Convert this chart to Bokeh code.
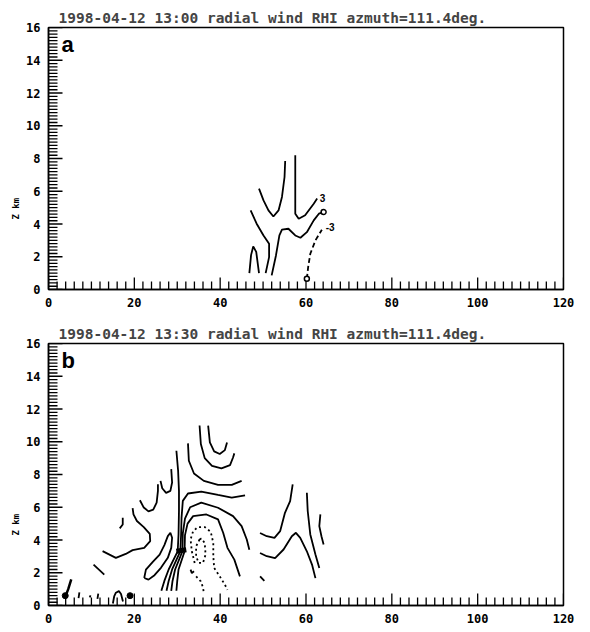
import numpy as np
from bokeh.plotting import figure
from bokeh.models import SingleIntervalTicker, Label, Range1d, Title
from bokeh.layouts import column
from bokeh.embed import file_html
from bokeh.resources import INLINE

# ---------------- data (x: km range, y: Z km) ----------------
title_a = "1998-04-12 13:00 radial wind RHI azmuth=111.4deg."
title_b = "1998-04-12 13:30 radial wind RHI azmuth=111.4deg."
x_ticks_interval = 20
x_minor_interval = 2
y_ticks_interval = 2
y_minor_interval = 0.2

# Panel a contours (solid)
a1_x = [46.8, 47.2, 47.7, 48.4, 49.05]
a1_y = [1.0, 2.1, 2.63, 2.3, 1.0]
a2_x = [47.1, 48.5, 50.1, 51.4, 51.4, 50.6]
a2_y = [4.83, 4.02, 3.30, 2.79, 1.98, 1.0]
a3_x = [49.05, 50.1, 51.25, 52.4, 53.6, 54.4, 55.0, 55.15]
a3_y = [6.16, 5.44, 4.83, 4.46, 4.83, 5.65, 6.87, 7.85]
a4_x = [57.5, 57.5, 58.3, 59.8, 61.8, 62.6]
a4_y = [8.2, 4.63, 4.32, 4.53, 5.24, 5.55]
a5_x = [52.0, 53.0, 53.8, 54.4, 55.9, 57.5, 58.7, 60.2, 61.8, 63.0, 64.1]
a5_y = [0.86, 2.08, 3.30, 3.65, 3.71, 3.30, 3.16, 3.50, 4.22, 4.63, 4.73]
# Panel a contour (dashed, negative)
a6_x = [60.2, 60.5, 61.0, 62.2, 63.7]
a6_y = [0.65, 1.36, 2.18, 3.0, 3.65]
a_labels = ["3", "-3"]
a_label_x = [63.2, 64.6]
a_label_y = [5.6, 3.8]
a_marks_x = [64.1, 60.2]
a_marks_y = [4.73, 0.65]

# Panel b contours (solid)
b_c1_x = [37.2, 37.6, 38.6, 39.9, 41.1, 41.6]
b_c1_y = [10.99, 9.96, 9.41, 9.25, 9.49, 9.96]
b_c2_x = [35.2, 35.5, 36.4, 38.1, 40.3, 42.3, 43.0, 43.3]
b_c2_y = [10.99, 9.86, 9.0, 8.53, 8.37, 8.57, 9.04, 9.29]
b_c3_x = [32.5, 32.7, 33.9, 36.2, 39.5, 42.7, 45.0]
b_c3_y = [9.9, 8.84, 8.06, 7.61, 7.37, 7.37, 7.61]
b_la_x = [29.8, 30.2, 30.4, 30.4, 30.3, 30.1, 28.0, 27.0, 26.3]
b_la_y = [9.45, 8.23, 7.0, 5.77, 4.34, 3.3, 2.2, 1.5, 0.9]
b_r_x = [45.8, 42.7, 39.5, 35.6, 32.5, 31.3, 31.0, 30.9, 30.7, 28.8, 28.0, 27.5]
b_r_y = [6.73, 6.59, 6.75, 6.96, 6.84, 6.39, 5.36, 4.34, 3.3, 2.2, 1.5, 0.9]
b_x1_x = [46.8, 46.2, 45.0, 43.0, 39.5, 35.6, 33.0, 31.8, 31.3, 31.2, 29.5, 28.9, 28.6]
b_x1_y = [3.41, 4.03, 4.85, 5.46, 5.97, 6.28, 6.0, 5.3, 4.4, 3.3, 2.2, 1.5, 0.9]
b_x2_x = [44.6, 43.3, 41.7, 40.7, 39.5, 36.8, 33.7, 32.4, 31.8, 31.7, 30.3, 30.0, 29.8]
b_x2_y = [1.78, 2.8, 3.52, 4.44, 5.26, 5.56, 5.46, 5.0, 4.3, 3.3, 2.2, 1.5, 0.9]
b_u1_x = [21.3, 22.2, 23.3, 24.4, 25.2, 25.5, 25.5]
b_u1_y = [6.43, 5.98, 5.75, 5.85, 6.28, 7.0, 7.41]
b_u2_x = [26.1, 26.5, 27.4, 28.4, 28.8, 28.6]
b_u2_y = [7.61, 7.16, 6.88, 7.0, 7.51, 8.33]
b_wave_x = [12.6, 15.7, 18.0, 19.6, 22.3, 23.7, 23.6, 22.2, 20.6, 19.8, 19.6]
b_wave_y = [3.32, 2.91, 3.15, 3.38, 3.52, 3.93, 4.38, 4.79, 5.16, 5.57, 5.94]
b_hook_x = [17.3, 17.3, 16.6]
b_hook_y = [5.36, 4.95, 4.71]
b_dash_x = [10.5, 13.0]
b_dash_y = [2.5, 1.89]
b_loop_x = [22.3, 22.7, 24.3, 25.9, 27.0, 27.8, 28.4, 28.8, 28.6, 27.8, 26.2, 24.7, 23.3, 22.3]
b_loop_y = [1.68, 2.19, 2.66, 3.11, 3.69, 4.24, 4.44, 4.14, 3.52, 2.91, 2.3, 1.85, 1.58, 1.68]
b_ra_x = [56.9, 56.3, 55.1, 53.97, 52.65, 50.86, 49.29]
b_ra_y = [7.4, 6.38, 5.66, 4.54, 4.13, 4.23, 4.43]
b_rb_x = [49.29, 50.86, 52.8, 54.77, 56.7, 57.65, 58.66, 60.2, 61.4, 62.2]
b_rb_y = [3.21, 3.01, 2.9, 3.42, 4.23, 4.44, 4.13, 3.31, 2.50, 1.67]
b_rc_x = [60.2, 60.4, 61.0, 62.2, 63.1]
b_rc_y = [6.89, 5.77, 4.34, 3.11, 2.29]
b_rd_x = [63.35, 63.1, 63.6, 64.1]
b_rd_y = [5.56, 4.85, 4.23, 3.72]
b_rdash_x = [49.3, 50.3]
b_rdash_y = [1.78, 1.51]
b_cap_x = [15.0, 15.3, 15.7, 16.4, 16.9, 17.35]
b_cap_y = [0.12, 0.55, 0.78, 0.88, 0.7, 0.24]
b_bits_x = [[7.0, 7.2], [9.6, 9.8], [11.4, 11.6]]
b_bits_y = [[0.45, 0.8], [0.5, 0.62], [0.4, 0.72]]
b_arrow_x = [5.3, 4.6, 3.8]
b_arrow_y = [1.6, 1.0, 0.45]
b_blob_x = [29.8, 32.1]
b_blob_y = [3.31, 3.41]
b_dot_x = [19.0, 3.9]
b_dot_y = [0.6, 0.6]
# Panel b contours (dotted, negative)
b_d_outer_x = [34.06, 33.4, 33.1, 33.7, 34.8, 36.4, 37.8, 38.4, 38.4, 38.6, 39.9, 41.1, 41.7]
b_d_outer_y = [2.6, 3.31, 4.03, 4.54, 4.79, 4.79, 4.5, 3.82, 3.0, 2.29, 1.78, 1.27, 0.96]
b_d_inner_x = [35.2, 34.4, 34.4, 35.0, 36.0, 36.6, 36.4, 35.6, 35.2]
b_d_inner_y = [4.03, 3.62, 3.0, 2.6, 2.6, 3.11, 3.82, 4.09, 4.03]
b_d_low_x = [34.4, 35.5, 36.0, 36.2]
b_d_low_y = [1.78, 1.47, 1.1, 0.76]
b_cup_x = [33.1, 33.4, 33.9]
b_cup_y = [2.19, 1.98, 2.09]

MONO = "DejaVu Sans Mono"
LW = 1.8
X0, X1, Y0, Y1 = 0.0, 120.0, 0.0, 16.0
FW, FH = 515, 262


def make_panel(title, letter):
    p = figure(frame_width=FW, frame_height=FH,
               x_range=Range1d(X0, X1), y_range=Range1d(Y0, Y1),
               output_backend="svg", toolbar_location=None,
               min_border_left=48, min_border_right=27,
               min_border_top=27, min_border_bottom=27,
               background_fill_color="white", border_fill_color="white")
    p.title.text = title
    p.title.text_font = MONO
    p.title.text_font_size = "14.5px"
    p.title.text_font_style = "bold"
    p.title.align = "left"
    p.title.offset = 10
    p.title.standoff = 3
    p.xgrid.visible = False
    p.ygrid.visible = False
    p.outline_line_color = "black"
    p.outline_line_width = 1.5
    p.xaxis.ticker = SingleIntervalTicker(interval=x_ticks_interval, num_minor_ticks=10)
    p.yaxis.ticker = SingleIntervalTicker(interval=y_ticks_interval, num_minor_ticks=10)
    for ax in (p.xaxis, p.yaxis):
        ax.major_tick_in = 0
        ax.major_tick_out = 0
        ax.minor_tick_in = 0
        ax.minor_tick_out = 0
        ax.axis_line_color = "black"
        ax.axis_line_width = 1.5
        ax.major_label_text_font = MONO
        ax.major_label_text_font_size = "12px"
        ax.major_label_text_font_style = "bold"
        ax.major_label_text_color = "black"
    p.xaxis.major_label_standoff = 8
    p.yaxis.major_label_standoff = 8
    # inward ticks drawn in the frame, spaced by the axis intervals (one glyph)
    kx = (X1 - X0) / FW   # km per pixel (x)
    ky = (Y1 - Y0) / FH   # km per pixel (y)
    n_x = int(round((X1 - X0) / x_minor_interval))
    n_y = int(round((Y1 - Y0) / y_minor_interval))
    tick_xs, tick_ys = [], []
    for i in range(n_x + 1):
        v = X0 + i * x_minor_interval
        L = (12 if i % 10 == 0 else 8) * ky
        tick_xs.append([v, v])
        tick_ys.append([Y0, Y0 + L])
    for i in range(n_y + 1):
        v = Y0 + i * y_minor_interval
        L = (14 if i % 10 == 0 else 9) * kx
        tick_xs.append([X0, X0 + L])
        tick_ys.append([v, v])
    p.multi_line(xs=tick_xs, ys=tick_ys, line_color="black", line_width=1.3)
    p.add_layout(Title(text="Z km", align="left", offset=70, standoff=6,
                       text_font=MONO, text_font_style="bold",
                       text_font_size="9px", text_color="black"), "left")
    p.add_layout(Label(x=3.0, y=15.75, text=letter, text_baseline="top",
                       text_font="Liberation Sans", text_font_style="bold",
                       text_font_size="22px", text_color="black"))
    return p


pa = make_panel(title_a, "a")
pa.multi_line(xs=[a1_x, a2_x, a3_x, a4_x, a5_x], ys=[a1_y, a2_y, a3_y, a4_y, a5_y],
              line_color="black", line_width=LW)
pa.line(a6_x, a6_y, line_color="black", line_width=LW, line_dash="5 3")
pa.scatter(a_marks_x, a_marks_y, size=5, fill_color="white", line_color="black", line_width=1.5)
pa.text(a_label_x, a_label_y, text=a_labels, text_font_size="10px",
        text_baseline="middle", text_align="left", text_font_style="bold")

pb = make_panel(title_b, "b")
solid_x = [b_c1_x, b_c2_x, b_c3_x, b_la_x, b_r_x, b_x1_x, b_x2_x, b_u1_x, b_u2_x,
           b_wave_x, b_hook_x, b_dash_x, b_loop_x, b_ra_x, b_rb_x, b_rc_x, b_rd_x,
           b_rdash_x, b_cap_x] + b_bits_x
solid_y = [b_c1_y, b_c2_y, b_c3_y, b_la_y, b_r_y, b_x1_y, b_x2_y, b_u1_y, b_u2_y,
           b_wave_y, b_hook_y, b_dash_y, b_loop_y, b_ra_y, b_rb_y, b_rc_y, b_rd_y,
           b_rdash_y, b_cap_y] + b_bits_y
pb.multi_line(xs=solid_x, ys=solid_y, line_color="black", line_width=LW)
pb.multi_line(xs=[b_d_outer_x, b_d_inner_x, b_d_low_x], ys=[b_d_outer_y, b_d_inner_y, b_d_low_y],
              line_color="black", line_width=LW, line_dash="2 3")
pb.line(b_cup_x, b_cup_y, line_color="black", line_width=LW)
pb.line(b_blob_x, b_blob_y, line_color="black", line_width=5)
pb.line(b_arrow_x, b_arrow_y, line_color="black", line_width=2.5)
pb.scatter(b_dot_x, b_dot_y, size=6, fill_color="black", line_color="black")

layout = column(pa, pb, spacing=0)
open("out.html", "w").write(file_html(layout, INLINE))
